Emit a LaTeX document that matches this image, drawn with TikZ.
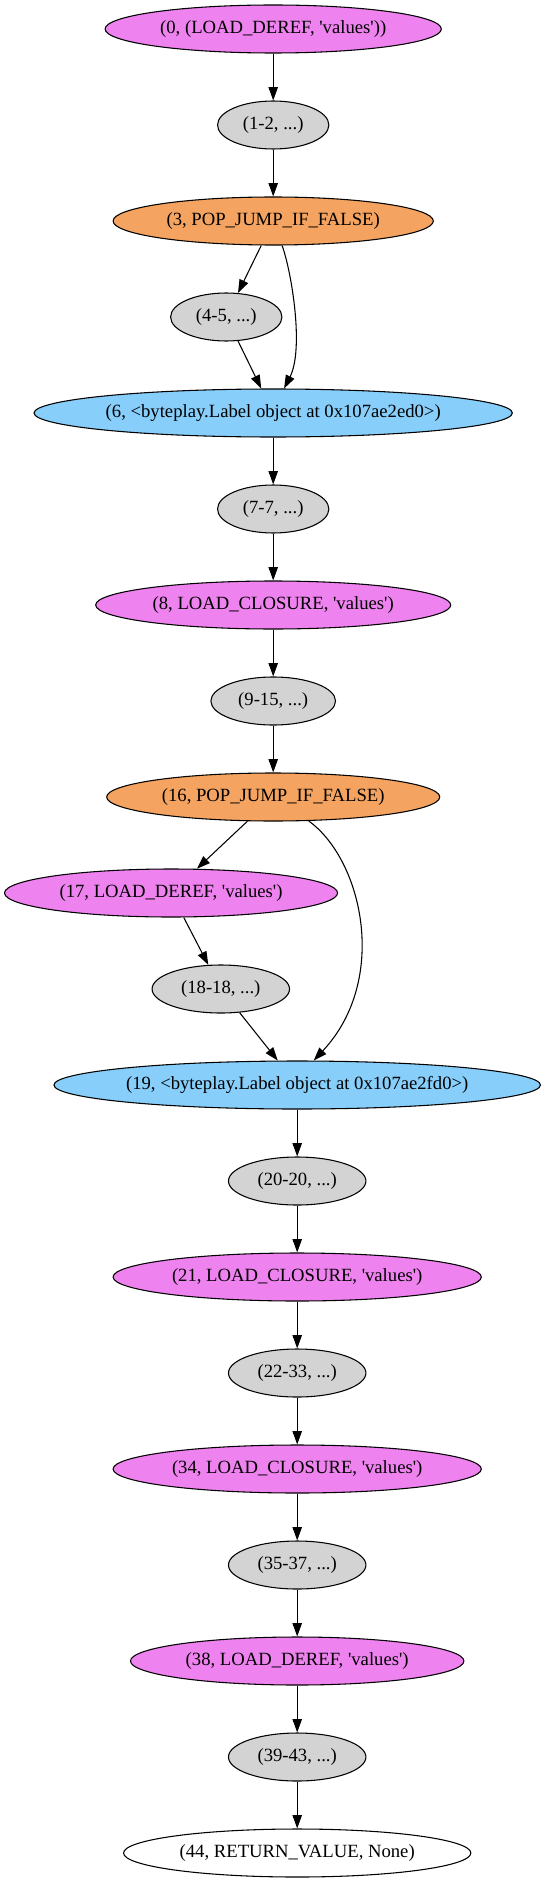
\documentclass[tikz,border=0pt]{standalone}
\usepackage{fontspec}
\newfontfamily\gvfont{Liberation Serif}
\usetikzlibrary{arrows.meta,shapes.geometric}
\definecolor{gvviolet}{HTML}{EE82EE}
\definecolor{gvsandy}{HTML}{F4A460}
\definecolor{gvsky}{HTML}{87CEFA}
\definecolor{gvgrey}{HTML}{D3D3D3}
\tikzset{
  gvnode/.style={ellipse, draw=black, line width=0.8pt, minimum height=36pt, inner sep=0pt,
    font=\gvfont\fontsize{14}{16}\selectfont, text=black},
  viol/.style={gvnode, fill=gvviolet},
  sandy/.style={gvnode, fill=gvsandy},
  sky/.style={gvnode, fill=gvsky},
  grey/.style={gvnode, fill=gvgrey},
  plain/.style={gvnode, fill=white},
  arr/.style={line width=0.8pt, -{Triangle[length=10pt,width=7pt]}}
}
\begin{document}
\begin{tikzpicture}[x=1pt,y=-1pt]
\useasboundingbox (0,0) rectangle (407.25,1412.25);
\node[viol,  minimum width=252.2pt] (n0)  at (204.9,21.75)  {(0, (LOAD\_DEREF, 'values'))};
\node[grey,  minimum width=83.5pt]  (n1)  at (204.9,93.75)  {(1-2, ...)};
\node[sandy, minimum width=240.2pt] (n3)  at (204.9,165.75) {(3, POP\_JUMP\_IF\_FALSE)};
\node[grey,  minimum width=83.5pt]  (n4)  at (169.7,237.75) {(4-5, ...)};
\node[sky,   minimum width=358.7pt] (n6)  at (204.9,309.75) {(6, <byteplay.Label object at 0x107ae2ed0>)};
\node[grey,  minimum width=83.5pt]  (n7)  at (204.9,381.75) {(7-7, ...)};
\node[viol,  minimum width=266.3pt] (n8)  at (204.9,453.75) {(8, LOAD\_CLOSURE, 'values')};
\node[grey,  minimum width=93.5pt]  (n9)  at (204.9,525.75) {(9-15, ...)};
\node[sandy, minimum width=249.8pt] (n16) at (204.9,597.75) {(16, POP\_JUMP\_IF\_FALSE)};
\node[viol,  minimum width=249.8pt] (n17) at (128.3,669.75) {(17, LOAD\_DEREF, 'values')};
\node[grey,  minimum width=103.1pt] (n18) at (165.6,741.75) {(18-18, ...)};
\node[sky,   minimum width=364.9pt] (n19) at (222.9,813.75) {(19, <byteplay.Label object at 0x107ae2fd0>)};
\node[grey,  minimum width=103.1pt] (n20) at (222.9,885.75) {(20-20, ...)};
\node[viol,  minimum width=276.2pt] (n21) at (222.9,957.75) {(21, LOAD\_CLOSURE, 'values')};
\node[grey,  minimum width=103.1pt] (n22) at (222.9,1029.75) {(22-33, ...)};
\node[viol,  minimum width=276.2pt] (n34) at (222.9,1101.75) {(34, LOAD\_CLOSURE, 'values')};
\node[grey,  minimum width=103.1pt] (n35) at (222.9,1173.75) {(35-37, ...)};
\node[viol,  minimum width=250.1pt] (n38) at (222.9,1245.75) {(38, LOAD\_DEREF, 'values')};
\node[grey,  minimum width=103.1pt] (n39) at (222.9,1317.75) {(39-43, ...)};
\node[plain, minimum width=260.5pt] (n44) at (222.9,1389.75) {(44, RETURN\_VALUE, None)};

\draw[arr] (n0) -- (n1);
\draw[arr] (n1) -- (n3);
\draw[arr] (n3) -- (n4);
\draw[arr] (n3.-70) .. controls (219,205) and (228,262) .. (n6.66);
\draw[arr] (n4) -- (n6);
\draw[arr] (n6) -- (n7);
\draw[arr] (n7) -- (n8);
\draw[arr] (n8) -- (n9);
\draw[arr] (n9) -- (n16);
\draw[arr] (n16) -- (n17);
\draw[arr] (n16.-34) .. controls (272,645) and (292,735) .. (n19.56);
\draw[arr] (n17) -- (n18);
\draw[arr] (n18) -- (n19);
\draw[arr] (n19) -- (n20);
\draw[arr] (n20) -- (n21);
\draw[arr] (n21) -- (n22);
\draw[arr] (n22) -- (n34);
\draw[arr] (n34) -- (n35);
\draw[arr] (n35) -- (n38);
\draw[arr] (n38) -- (n39);
\draw[arr] (n39) -- (n44);
\end{tikzpicture}
\end{document}
